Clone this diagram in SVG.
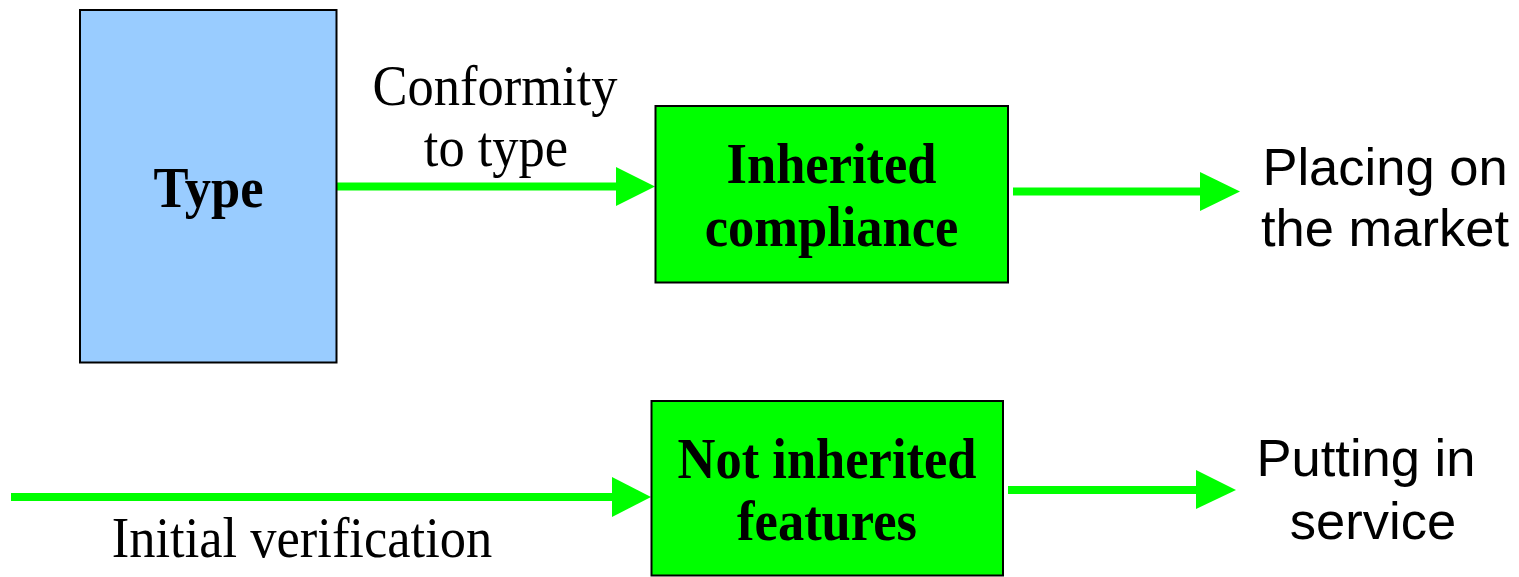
<svg xmlns="http://www.w3.org/2000/svg" width="1519" height="577" viewBox="0 0 1519 577">
<style>
.box{stroke:#000;stroke-width:2}
.blue{fill:#99CCFF}
.green{fill:#00FF00}
.serif{font-family:"Liberation Serif","Times New Roman",serif;font-size:52.5px;fill:#000;text-anchor:middle}
.bold{font-weight:bold}
.sans{font-family:"Liberation Sans",Arial,sans-serif;font-size:52.5px;fill:#000;text-anchor:middle}
.conn line{stroke:#00FF00;stroke-width:8}
.conn polygon{fill:#00FF00}
</style>
<rect width="1519" height="577" fill="#fff"/>
<g id="connectors" class="conn">
<line x1="337" y1="186.5" x2="620" y2="186.5"/>
<polygon points="616,167 655,186.5 616,206"/>
<line x1="1013" y1="191.5" x2="1204" y2="191.5"/>
<polygon points="1200,172 1240,191.5 1200,211"/>
<line x1="11" y1="497" x2="616" y2="497"/>
<polygon points="612,477 651,497 612,517"/>
<line x1="1008" y1="490" x2="1200" y2="490"/>
<polygon points="1196,470 1236,490 1196,509"/>
</g>
<g id="type">
<rect class="box blue" x="80" y="10" width="256.5" height="352.5"/>
<text class="serif bold" transform="translate(208.5,207) scale(1,1.07)">Type</text>
</g>
<g id="inherited-compliance">
<rect class="box green" x="655.5" y="106" width="352.5" height="176.5"/>
<text class="serif bold" transform="translate(831.5,183) scale(1,1.07)">Inherited</text>
<text class="serif bold" transform="translate(831.5,246) scale(1,1.07)">compliance</text>
</g>
<g id="not-inherited-features">
<rect class="box green" x="651.5" y="401" width="351.5" height="174.5"/>
<text class="serif bold" transform="translate(827,478) scale(1,1.07)">Not inherited</text>
<text class="serif bold" transform="translate(827,540) scale(1,1.07)">features</text>
</g>
<g id="label-conformity">
<text class="serif" transform="translate(495,105) scale(1,1.07)">Conformity</text>
<text class="serif" transform="translate(496,166) scale(1,1.07)">to type</text>
</g>
<g id="label-initial">
<text class="serif" transform="translate(302,557) scale(1,1.07)">Initial verification</text>
</g>
<g id="placing">
<text class="sans" x="1385" y="185">Placing on</text>
<text class="sans" x="1385" y="246">the market</text>
</g>
<g id="putting">
<text class="sans" x="1366" y="476">Putting in</text>
<text class="sans" x="1373" y="539">service</text>
</g>
</svg>
